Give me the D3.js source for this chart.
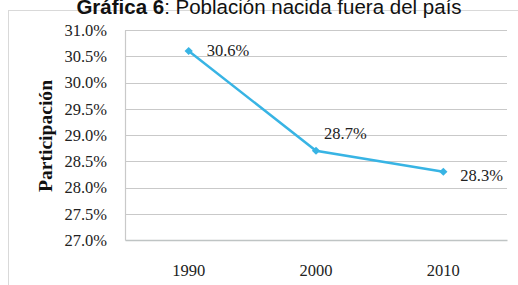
<!DOCTYPE html>
<html>
<head>
<meta charset="utf-8">
<script src="https://cdn.jsdelivr.net/npm/d3@7"></script>
<style>
  body { margin: 0; background: #fff; }
  svg { display: block; }
</style>
</head>
<body>
<div id="chart"></div>
<script>
// data
let years = ['1990', '2000', '2010'];
let shares = [30.6, 28.7, 28.3];
let yTicks = [27.0, 27.5, 28.0, 28.5, 29.0, 29.5, 30.0, 30.5, 31.0];
let labelOffsets = [[18, -1], [8, -18], [17, 3]]; // where each data label sits

const W = 518, H = 285;
const margin = { top: 30, right: 11, bottom: 45, left: 125 };
let width = W - margin.left - margin.right;
let height = H - margin.top - margin.bottom;

let svg = d3.select('#chart').append('svg')
  .attr('width', W).attr('height', H);

// outer chart frame (cut off at the right and bottom)
svg.append('rect')
  .attr('x', 8.5).attr('y', 10.5)
  .attr('width', 530).attr('height', 300)
  .attr('fill', 'none').attr('stroke', '#d9d9d9');

// title (the top of it is cropped in the source picture)
let title = svg.append('text')
  .attr('x', 269).attr('y', 13.5)
  .attr('text-anchor', 'middle')
  .style('font-family', 'Liberation Sans, Arial, sans-serif')
  .style('font-size', '20.5px')
  .attr('fill', '#111');
title.append('tspan').attr('font-weight', 'bold').text('Gráfica 6');
title.append('tspan').text(': Población nacida fuera del país');

let g = svg.append('g').attr('transform', `translate(${margin.left},${margin.top})`);

let x = d3.scaleBand().domain(years).range([0, width]);
let y = d3.scaleLinear().domain([27, 31]).range([height, 0]);

const serif = 'Liberation Serif, serif';

// grid lines
g.append('g')
  .selectAll('line').data(yTicks.filter(t => t > 27)).join('line')
  .attr('x1', 0).attr('x2', width)
  .attr('y1', d => Math.round(y(d)) + 0.5).attr('y2', d => Math.round(y(d)) + 0.5)
  .attr('stroke', '#c9c9c9').attr('stroke-width', 1.2);

// left axis
let leftAxis = d3.axisLeft(y).tickValues(yTicks).tickSize(0).tickPadding(18)
  .tickFormat(d => d.toFixed(1) + '%');
let ya = g.append('g').call(leftAxis);
ya.select('.domain').attr('stroke', '#c9c9c9').attr('stroke-width', 1.2);
ya.selectAll('text')
  .style('font-family', serif)
  .style('font-size', '16.5px').attr('fill', '#222');

// bottom axis
let bottomAxis = d3.axisBottom(x).tickSize(0).tickPadding(24);
let xa = g.append('g').attr('transform', `translate(0,${height})`).call(bottomAxis);
xa.select('.domain').attr('stroke', '#bfc4c4').attr('stroke-width', 1.5);
xa.selectAll('text')
  .style('font-family', serif)
  .style('font-size', '16.5px').attr('fill', '#222');

// y title
svg.append('text')
  .attr('transform', 'translate(52,136) rotate(-90)')
  .attr('text-anchor', 'middle')
  .attr('textLength', 112).attr('lengthAdjust', 'spacingAndGlyphs')
  .style('font-family', serif)
  .style('font-size', '19px').style('font-weight', 'bold')
  .attr('fill', '#111')
  .text('Participación');

let pts = years.map((yr, i) => ({ yr: yr, v: shares[i], off: labelOffsets[i] }));
let cx = d => x(d.yr) + x.bandwidth() / 2;

let color = '#38b4e4';
g.append('path').datum(pts)
  .attr('fill', 'none').attr('stroke', color).attr('stroke-width', 2.5)
  .attr('d', d3.line().x(cx).y(d => y(d.v)));

g.selectAll('.mk').data(pts).join('path')
  .attr('class', 'mk')
  .attr('transform', d => `translate(${cx(d)},${y(d.v)}) rotate(45)`)
  .attr('d', d3.symbol(d3.symbolSquare, 34))
  .attr('fill', color);

g.selectAll('.lbl').data(pts).join('text')
  .attr('class', 'lbl')
  .attr('x', d => cx(d) + d.off[0])
  .attr('y', d => y(d.v) + d.off[1])
  .attr('dy', '0.35em')
  .style('font-family', serif)
  .style('font-size', '16.5px').attr('fill', '#222')
  .text(d => d.v.toFixed(1) + '%');
</script>
</body>
</html>
